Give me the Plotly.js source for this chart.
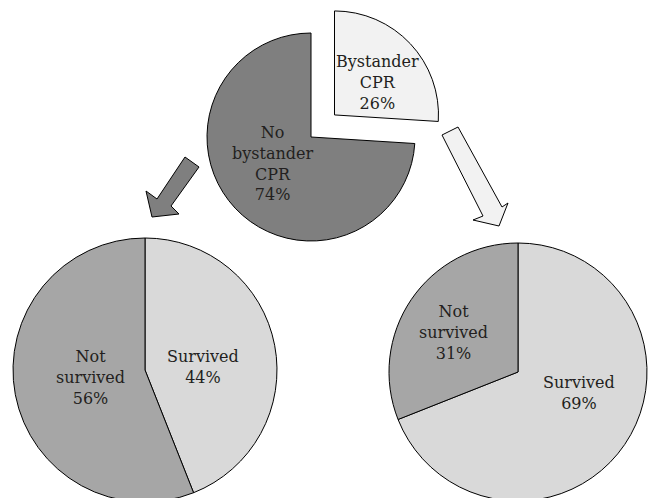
<!DOCTYPE html>
<html><head><meta charset="utf-8">
<script src="https://cdn.plot.ly/plotly-3.0.1.min.js"></script>
<style>html,body{margin:0;padding:0;overflow:hidden;background:#fff}</style>
</head><body><div id="chart"></div>
<script>
const topLabels = ['Bystander CPR', 'No bystander CPR'];
const topValues = [26, 74];
const leftLabels = ['Survived', 'Not survived'];
const leftValues = [44, 56];
const rightLabels = ['Survived', 'Not survived'];
const rightValues = [69, 31];

const W = 649, H = 506;
const FONT = {family: 'DejaVu Serif', size: 16, color: '#231f20'};
const line = {color: '#000', width: 1};

function dom(cx, cy, half) {
  return {x: [(cx - half) / W, (cx + half) / W], y: [1 - (cy + half) / H, 1 - (cy - half) / H]};
}
const pullTop = 0.31;
const traces = [
  {type: 'pie', labels: topLabels, values: topValues, sort: false, direction: 'clockwise', rotation: 0,
   pull: [pullTop, 0], marker: {colors: ['#f2f2f2', '#7f7f7f'], line: line},
   textinfo: 'none', hoverinfo: 'none', showlegend: false, domain: dom(311, 137, 104 * (1 + pullTop))},
  {type: 'pie', labels: leftLabels, values: leftValues, sort: false, direction: 'clockwise', rotation: 0,
   marker: {colors: ['#d9d9d9', '#a6a6a6'], line: line},
   textinfo: 'none', hoverinfo: 'none', showlegend: false, domain: dom(145, 370, 132)},
  {type: 'pie', labels: rightLabels, values: rightValues, sort: false, direction: 'clockwise', rotation: 0,
   marker: {colors: ['#d9d9d9', '#a6a6a6'], line: line},
   textinfo: 'none', hoverinfo: 'none', showlegend: false, domain: dom(518, 372, 129)}
];

function lbl(label, value, x, y) {
  return {xref: 'x', yref: 'y', x: x, y: y, showarrow: false, align: 'center',
    text: label.split(' ').join('<br>') + '<br>' + value + '%', font: FONT};
}
const annotations = [
  lbl(topLabels[0], topValues[0], 377, 82),
  lbl(topLabels[1], topValues[1], 272, 163),
  lbl(leftLabels[0], leftValues[0], 203, 367),
  lbl(leftLabels[1], leftValues[1], 90, 377),
  lbl(rightLabels[0], rightValues[0], 579, 393),
  lbl(rightLabels[1], rightValues[1], 453, 332)
];

const shapes = [
  {type: 'path', xref: 'x', yref: 'y', layer: 'above',
   path: 'M185,157 L199,167 L171,206 L179,214 L152,217 L146,191 L157,199 Z',
   fillcolor: '#7f7f7f', line: {color: '#000', width: 1}},
  {type: 'path', xref: 'x', yref: 'y', layer: 'above',
   path: 'M442,135 L458,127 L502,207 L508,203 L499,226 L473,220 L483,216 Z',
   fillcolor: '#f2f2f2', line: {color: '#000', width: 1}}
];

const layout = {
  width: W, height: H, margin: {l: 0, r: 0, t: 0, b: 0},
  paper_bgcolor: '#fff', plot_bgcolor: 'rgba(0,0,0,0)',
  xaxis: {range: [0, W], visible: false, fixedrange: true},
  yaxis: {range: [H, 0], visible: false, fixedrange: true},
  showlegend: false, annotations: annotations, shapes: shapes
};
Plotly.newPlot('chart', traces, layout, {displayModeBar: false, staticPlot: true});
</script></body></html>
